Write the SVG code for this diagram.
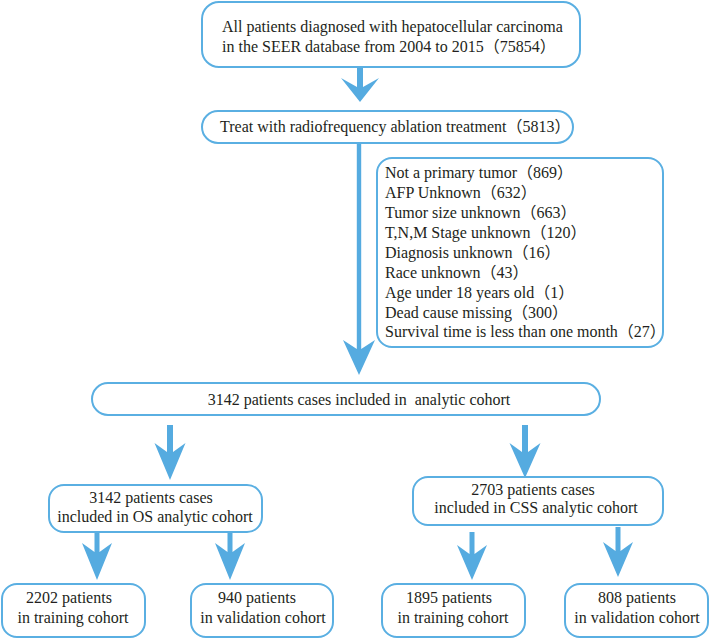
<svg xmlns="http://www.w3.org/2000/svg" width="710" height="639" viewBox="0 0 710 639">
<style>
.box{fill:#fff;stroke:#5aafe2;stroke-width:2}
text{font-family:'Liberation Serif','Times New Roman',Times,'DejaVu Serif','Noto Sans CJK SC',serif;font-size:16px;fill:#231f20}
.c{text-anchor:middle}
.arr{fill:#55abe0}
</style>
<rect width="710" height="639" fill="#fff"/>
<g id="connectors">
<path class="arr" d="M357,66 H363 V87 L379,78 L360,102 L341,78 L357,87 Z"/>
<path class="arr" d="M356.8,144 H361.2 V349 L375,340 L359,375 L343,340 L356.8,349 Z"/>
<path class="arr" d="M167,425 H173 V452 L185.5,443 L170,480 L154.5,443 L167,452 Z"/>
<path class="arr" d="M522,425 H528 V452 L540.5,443 L525,478 L509.5,443 L522,452 Z"/>
<path class="arr" d="M94.5,532 H99.5 V552 L112,543 L97,580 L82,543 L94.5,552 Z"/>
<path class="arr" d="M227.5,532 H232.5 V552 L245,543 L230,580 L215,543 L227.5,552 Z"/>
<path class="arr" d="M469.5,532 H474.5 V554 L487,545 L472,580 L457,545 L469.5,554 Z"/>
<path class="arr" d="M615.5,527 H620.5 V551 L633,542 L618,577 L603,542 L615.5,551 Z"/>
</g>
<g id="n1">
<rect class="box" x="202" y="2" width="378" height="65" rx="17"/>
<text x="222" y="32">All patients diagnosed with hepatocellular carcinoma</text>
<text x="222" y="52">in the SEER database from 2004 to 2015（75854）</text>
</g>
<g id="n2">
<rect class="box" x="202" y="111" width="371" height="32" rx="16"/>
<text x="220" y="132">Treat with radiofrequency ablation treatment（5813）</text>
</g>
<g id="n3">
<rect class="box" x="377" y="158" width="286" height="189" rx="15"/>
<text x="385" y="178">Not a primary tumor（869）</text>
<text x="385" y="198">AFP Unknown（632）</text>
<text x="385" y="218">Tumor size unknown（663）</text>
<text x="385" y="238">T,N,M Stage unknown（120）</text>
<text x="385" y="258">Diagnosis unknown（16）</text>
<text x="385" y="278">Race unknown（43）</text>
<text x="385" y="298">Age under 18 years old（1）</text>
<text x="385" y="318">Dead cause missing（300）</text>
<text x="385" y="337">Survival time is less than one month（27）</text>
</g>
<g id="n4">
<rect class="box" x="92" y="383" width="508" height="32" rx="16"/>
<text class="c" x="359" y="405" style="white-space:pre">3142 patients cases included in  analytic cohort</text>
</g>
<g id="n5">
<rect class="box" x="49" y="485" width="213" height="47" rx="15"/>
<text class="c" x="151" y="503">3142 patients cases</text>
<text class="c" x="155" y="522">included in OS analytic cohort</text>
</g>
<g id="n6">
<rect class="box" x="413" y="477" width="250" height="48" rx="15"/>
<text class="c" x="533" y="495">2703 patients cases</text>
<text class="c" x="536" y="513">included in CSS analytic cohort</text>
</g>
<g id="n7">
<rect class="box" x="2" y="584" width="143" height="53" rx="15"/>
<text class="c" x="69" y="603">2202 patients</text>
<text class="c" x="73" y="623">in training cohort</text>
</g>
<g id="n8">
<rect class="box" x="191" y="584" width="142" height="53" rx="15"/>
<text class="c" x="257" y="603">940 patients</text>
<text class="c" x="263" y="623">in validation cohort</text>
</g>
<g id="n9">
<rect class="box" x="382" y="584" width="143" height="53" rx="15"/>
<text class="c" x="449" y="603">1895 patients</text>
<text class="c" x="453" y="623">in training cohort</text>
</g>
<g id="n10">
<rect class="box" x="565" y="584" width="143" height="53" rx="15"/>
<text class="c" x="637" y="603">808 patients</text>
<text class="c" x="637" y="623">in validation cohort</text>
</g>
</svg>
